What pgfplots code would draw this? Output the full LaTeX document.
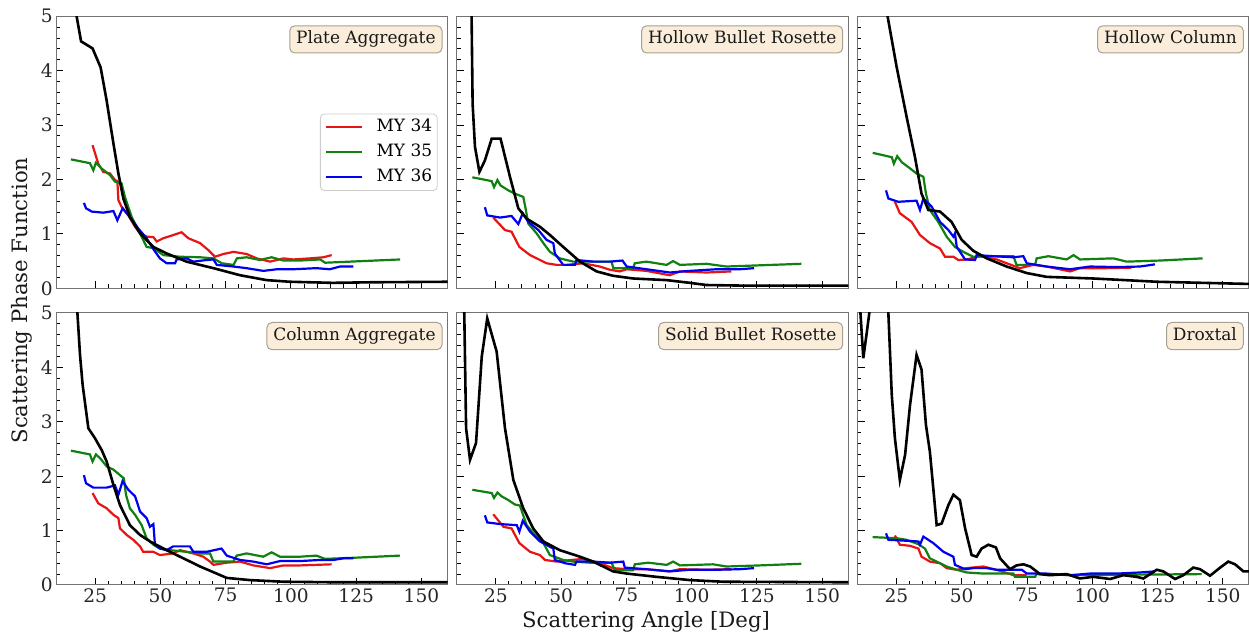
\documentclass[border=0pt]{standalone}
\usepackage{fontspec}
\setmainfont{DejaVu Serif}
\usepackage{pgfplots}
\pgfplotsset{compat=1.18}
\definecolor{myred}{HTML}{E81414}
\definecolor{mygreen}{HTML}{108010}
\definecolor{myblue}{HTML}{0000F0}
\definecolor{boxfill}{HTML}{FAEEDA}
\definecolor{boxedge}{HTML}{A8A090}
\newcommand{\ticksfont}{\fontsize{9.3}{11}\selectfont}
\newcommand{\labfont}{\fontsize{10.6}{12}\selectfont}
\newcommand{\smallfont}{\fontsize{8.5}{10}\selectfont}
\pgfplotsset{
 panel/.style={
  scale only axis, width=195.8pt, height=136pt,
  anchor=south west,
  xmin=10, xmax=160, ymin=0, ymax=5,
  xtick={25,50,75,100,125,150}, ytick={0,1,2,3,4,5},
  minor x tick num=4, minor y tick num=4,
  tick align=inside, xtick pos=bottom, ytick pos=left,
  major tick length=3.6pt, minor tick length=2pt,
  every tick/.style={black, line width=0.5pt},
  axis line style={black!55, line width=0.5pt},
  tick label style={font=\ticksfont, text=black!85, inner sep=1.5pt},
  /pgf/number format/assume math mode=true,
  clip=true,
 },
 noxlab/.style={xticklabels={}},
 noylab/.style={yticklabels={}},
 r/.style={myred, line width=1.1pt},
 g/.style={mygreen, line width=1.1pt},
 b/.style={myblue, line width=1.1pt},
 k/.style={black, line width=1.3pt},
}
\tikzset{titlebox/.style={draw=boxedge, fill=boxfill, rounded corners=2.5pt, line width=0.5pt,
  font=\smallfont, text=black!90, inner xsep=3.2pt, inner ysep=2.7pt, text height=6.4pt, text depth=1.8pt, anchor=north east}}
\begin{document}
\begin{tikzpicture}
\useasboundingbox (0,0) rectangle (624.5pt,317.5pt);
% ---------- Plate Aggregate
\begin{axis}[panel, noxlab, at={(28pt,173.35pt)},
  legend style={at={(axis description cs:0.9745,0.5)}, anchor=east, draw=black!20, rounded corners=2pt,
    font=\smallfont, inner xsep=2.5pt, inner ysep=2.5pt, row sep=4.2pt, column sep=0pt,
    nodes={inner sep=0pt, text height=6.5pt, text depth=1.8pt}, cells={anchor=west}},
  legend image code/.code={\draw[#1] (0pt,0pt) -- (18pt,0pt); \path (24.5pt,0pt);},
  legend cell align=left]
\addplot[r] coordinates {(24.0,2.63) (26.2,2.29) (28.1,2.14) (30.7,2.11) (32.6,1.99) (33.5,1.97) (33.9,1.62) (35.1,1.50) (37.7,1.34) (40.3,1.13) (42.2,1.01) (44.7,0.95) (47.3,0.94) (48.6,0.86) (51.1,0.92) (55.0,0.98) (58.1,1.03) (60.7,0.92) (65.2,0.83) (68.4,0.70) (70.9,0.58) (74.1,0.63) (78.0,0.67) (83.0,0.63) (86.9,0.55) (92.0,0.49) (97.1,0.55) (100.9,0.53) (107.3,0.55) (112.4,0.57) (115.6,0.61)};
\addlegendentry{MY 34}
\addplot[g] coordinates {(15.7,2.37) (23.0,2.30) (24.3,2.17) (25.3,2.31) (27.5,2.20) (30.7,2.08) (32.6,1.96) (35.1,1.93) (36.4,1.68) (39.0,1.31) (42.2,1.01) (44.7,0.76) (47.3,0.74) (51.1,0.61) (57.5,0.58) (65.2,0.57) (70.3,0.55) (73.5,0.46) (78.0,0.43) (79.3,0.55) (83.0,0.57) (88.1,0.52) (92.6,0.57) (97.1,0.51) (103.5,0.51) (111.2,0.53) (113.1,0.47) (122.7,0.49) (141.8,0.53)};
\addlegendentry{MY 35}
\addplot[b] coordinates {(20.7,1.57) (21.5,1.47) (23.7,1.41) (28.1,1.39) (32.0,1.42) (33.5,1.25) (35.5,1.47) (38.3,1.31) (41.5,1.10) (44.7,0.92) (47.3,0.72) (49.8,0.55) (52.4,0.46) (55.6,0.46) (56.2,0.53) (60.0,0.55) (62.6,0.49) (67.7,0.52) (70.3,0.53) (71.6,0.43) (78.0,0.40) (83.0,0.37) (89.4,0.32) (94.6,0.35) (100.9,0.35) (109.8,0.37) (114.9,0.35) (118.8,0.40) (123.9,0.40)};
\addlegendentry{MY 36}
\addplot[k, forget plot] coordinates {(17.2,6.0) (17.9,5.0) (19.6,4.54) (24.0,4.41) (27.1,4.06) (29.4,3.45) (32.0,2.66) (33.9,2.11) (35.8,1.65) (38.3,1.31) (42.2,1.01) (47.3,0.76) (52.4,0.64) (60.0,0.49) (70.3,0.37) (80.5,0.24) (90.7,0.15) (99.6,0.12) (116,0.10) (130,0.11) (160,0.12)};
\node[titlebox] at (axis description cs:0.987,0.967) {Plate Aggregate};
\end{axis}
% ---------- Hollow Bullet Rosette
\begin{axis}[panel, noxlab, noylab, at={(228.35pt,173.35pt)}]
\addplot[r] coordinates {(24.0,1.30) (28.5,1.07) (31.0,1.04) (34.0,0.76) (38.1,0.61) (41.9,0.52) (44.4,0.46) (48.3,0.43) (52.1,0.43) (58.5,0.46) (64.8,0.40) (68.7,0.34) (72.5,0.31) (75.1,0.35) (82.7,0.32) (91.6,0.24) (95.5,0.31) (105.7,0.29) (115.2,0.31)};
\addplot[g] coordinates {(16.0,2.04) (23.4,1.97) (24.3,1.86) (25.6,1.99) (26.8,1.89) (29.8,1.80) (32.3,1.74) (35.5,1.68) (36.5,1.44) (37.4,1.19) (40.6,1.01) (43.2,0.83) (45.7,0.67) (49.5,0.55) (54.6,0.49) (61.0,0.49) (69.3,0.49) (70.0,0.37) (77.6,0.37) (78.2,0.46) (82.7,0.49) (90.4,0.43) (92.9,0.50) (95.5,0.43) (105.7,0.45) (113.3,0.40) (124.8,0.42) (142.0,0.45)};
\addplot[b] coordinates {(20.8,1.49) (21.7,1.34) (26.6,1.30) (31.0,1.33) (33.6,1.18) (35.3,1.38) (37.4,1.22) (41.3,1.07) (44.4,0.89) (47.0,0.83) (47.6,0.64) (50.8,0.43) (55.3,0.43) (55.9,0.52) (62.3,0.49) (68.7,0.49) (73.5,0.51) (75.1,0.40) (82.7,0.35) (91.6,0.29) (99.3,0.32) (109.5,0.35) (118.4,0.35) (123.9,0.37)};
\addplot[k] coordinates {(15.5,6.0) (15.7,5.0) (16.1,3.39) (17.0,2.60) (18.7,2.14) (20.8,2.35) (23.4,2.75) (26.8,2.75) (30.4,2.05) (33.6,1.47) (36.8,1.28) (41.9,1.13) (45.7,0.98) (50.8,0.76) (57.2,0.49) (63.6,0.31) (69.9,0.23) (77.6,0.18) (90.4,0.15) (99.3,0.10) (105.7,0.06) (118.4,0.05) (160,0.05)};
\node[titlebox] at (axis description cs:0.987,0.967) {Hollow Bullet Rosette};
\end{axis}
% ---------- Hollow Column
\begin{axis}[panel, noxlab, noylab, at={(428.65pt,173.35pt)}]
\addplot[r] coordinates {(24.4,1.59) (26.3,1.38) (30.8,1.22) (34.0,0.98) (37.8,0.83) (41.7,0.73) (43.6,0.58) (46.8,0.58) (48.7,0.52) (51.9,0.53) (57.0,0.59) (63.4,0.53) (67.2,0.46) (72.3,0.37) (77.4,0.43) (82.5,0.40) (91.5,0.31) (95.3,0.37) (105.5,0.37) (115.1,0.38)};
\addplot[g] coordinates {(15.9,2.49) (23.2,2.41) (24.0,2.29) (25.3,2.43) (27.0,2.32) (29.5,2.23) (32.7,2.11) (35.3,2.05) (36.3,1.74) (37.8,1.44) (41.0,1.22) (44.2,0.95) (47.4,0.76) (50.6,0.67) (54.4,0.58) (60.8,0.59) (69.8,0.59) (71.0,0.43) (78.1,0.43) (78.7,0.55) (83.2,0.59) (90.2,0.53) (92.8,0.61) (95.3,0.53) (108.1,0.55) (113.2,0.49) (126.0,0.51) (142.3,0.55)};
\addplot[b] coordinates {(21.0,1.80) (21.9,1.65) (25.7,1.59) (32.7,1.61) (34.0,1.44) (35.3,1.65) (38.5,1.50) (41.7,1.22) (44.9,1.07) (46.8,0.95) (47.4,1.01) (48.1,0.76) (51.3,0.53) (55.1,0.52) (55.7,0.61) (62.1,0.59) (69.8,0.57) (73.6,0.59) (74.9,0.46) (82.5,0.40) (91.5,0.35) (99.1,0.40) (109.4,0.39) (118.3,0.40) (124.0,0.44)};
\addplot[k] coordinates {(19.5,5.7) (21.6,5.0) (25.1,4.06) (28.9,3.15) (32.1,2.41) (34.6,1.74) (37.2,1.44) (41.7,1.41) (46.1,1.22) (50.0,0.89) (54.4,0.69) (59.6,0.55) (67.2,0.40) (74.9,0.28) (82.5,0.21) (100.4,0.18) (124.7,0.12) (160,0.08)};
\node[titlebox] at (axis description cs:0.987,0.967) {Hollow Column};
\end{axis}
% ---------- Column Aggregate
\begin{axis}[panel, at={(28pt,25pt)}]
\addplot[r] coordinates {(24.0,1.69) (26.2,1.50) (29.4,1.41) (32.0,1.29) (33.9,1.23) (34.5,1.04) (37.1,0.92) (39.6,0.83) (42.2,0.71) (43.4,0.61) (47.3,0.61) (49.8,0.55) (54.9,0.58) (57.5,0.64) (62.6,0.58) (66.4,0.52) (69.0,0.43) (70.3,0.37) (75.4,0.41) (80.5,0.43) (85.6,0.36) (92.0,0.31) (97.1,0.36) (103.5,0.36) (109.8,0.37) (115.6,0.38)};
\addplot[g] coordinates {(15.7,2.47) (23.0,2.40) (24.0,2.27) (25.3,2.40) (26.9,2.33) (29.4,2.18) (32.0,2.12) (33.5,2.06) (36.0,1.96) (36.8,1.66) (38.3,1.41) (40.3,1.29) (42.8,1.10) (44.7,0.86) (47.3,0.74) (49.8,0.67) (53.7,0.64) (60.0,0.61) (65.2,0.58) (69.0,0.58) (70.3,0.43) (77.9,0.43) (79.2,0.54) (83.0,0.58) (89.4,0.52) (92.6,0.60) (95.8,0.52) (103.5,0.52) (109.8,0.54) (113.0,0.48) (123.9,0.50) (141.7,0.54)};
\addplot[b] coordinates {(20.7,2.02) (21.5,1.87) (24.3,1.79) (29.4,1.79) (32.6,1.83) (33.9,1.66) (35.5,1.91) (37.7,1.75) (40.3,1.63) (42.2,1.35) (44.7,1.23) (46.0,1.07) (47.3,1.12) (47.9,0.74) (49.8,0.67) (52.4,0.64) (54.9,0.71) (61.3,0.71) (62.6,0.61) (67.7,0.61) (73.4,0.67) (75.4,0.54) (80.5,0.46) (85.6,0.43) (90.7,0.38) (95.8,0.44) (103.5,0.44) (111.1,0.46) (116.2,0.46) (120.0,0.49) (123.9,0.49)};
\addplot[k] coordinates {(17.9,6.0) (18.2,5.0) (19.2,4.23) (20.2,3.68) (22.4,2.88) (24.9,2.70) (27.5,2.48) (29.4,2.27) (32.0,1.84) (34.5,1.47) (38.3,1.10) (42.2,0.92) (46.0,0.80) (52.4,0.64) (58.8,0.49) (65.2,0.34) (71.5,0.21) (75.4,0.13) (84.3,0.09) (97.1,0.06) (116.2,0.05) (160,0.05)};
\node[titlebox] at (axis description cs:0.987,0.967) {Column Aggregate};
\end{axis}
% ---------- Solid Bullet Rosette
\begin{axis}[panel, noylab, at={(228.35pt,25pt)}]
\addplot[r] coordinates {(24.0,1.30) (27.9,1.07) (31.0,1.04) (34.0,0.77) (38.1,0.61) (41.9,0.55) (43.8,0.46) (48.3,0.43) (54.0,0.46) (58.5,0.48) (64.8,0.40) (69.9,0.31) (75.1,0.29) (82.7,0.29) (91.6,0.25) (95.5,0.29) (105.7,0.28) (115.2,0.29)};
\addplot[g] coordinates {(16.0,1.75) (23.4,1.69) (24.3,1.60) (25.6,1.70) (27.2,1.63) (29.8,1.56) (32.3,1.48) (34.2,1.46) (36.8,1.10) (40.0,0.92) (43.2,0.77) (45.7,0.55) (50.8,0.46) (54.6,0.43) (61.0,0.41) (69.3,0.41) (70.6,0.27) (77.6,0.27) (78.2,0.38) (83.3,0.41) (90.4,0.37) (92.9,0.43) (95.5,0.36) (108.2,0.38) (113.3,0.34) (126.1,0.36) (142.0,0.39)};
\addplot[b] coordinates {(20.8,1.28) (21.7,1.15) (26.6,1.12) (33.0,1.10) (34.0,0.98) (35.3,1.18) (38.1,0.98) (41.9,0.80) (47.0,0.67) (47.6,0.46) (51.5,0.40) (55.3,0.37) (55.9,0.43) (62.3,0.43) (68.7,0.41) (73.8,0.43) (74.4,0.32) (82.7,0.29) (91.6,0.25) (99.3,0.28) (109.5,0.28) (118.4,0.29) (123.9,0.31)};
\addplot[k] coordinates {(12.6,6.0) (12.9,5.0) (13.6,2.88) (15.1,2.30) (17.4,2.61) (19.6,4.20) (21.7,4.90) (25.3,4.29) (28.5,2.88) (31.7,1.93) (35.5,1.41) (39.3,1.04) (43.2,0.80) (49.5,0.64) (57.2,0.52) (62.3,0.43) (69.9,0.25) (75.1,0.21) (86.5,0.15) (99.3,0.09) (112.0,0.06) (160,0.05)};
\node[titlebox] at (axis description cs:0.987,0.967) {Solid Bullet Rosette};
\end{axis}
% ---------- Droxtal
\begin{axis}[panel, noylab, at={(428.65pt,25pt)}]
\addplot[r] coordinates {(24.4,0.91) (26.3,0.74) (30.2,0.72) (33.4,0.67) (34.6,0.52) (37.8,0.43) (41.7,0.40) (44.2,0.31) (48.1,0.28) (51.9,0.31) (58.3,0.34) (64.7,0.26) (69.8,0.18) (74.9,0.18)};
\addplot[g] coordinates {(15.9,0.88) (25.1,0.86) (28.9,0.83) (33.4,0.75) (35.9,0.67) (37.8,0.49) (40.4,0.43) (44.2,0.34) (48.1,0.28) (51.9,0.23) (58.3,0.21) (69.8,0.21) (70.4,0.15) (78.1,0.15) (78.7,0.20) (92.8,0.18) (141.9,0.20)};
\addplot[b] coordinates {(21.0,0.95) (21.9,0.83) (26.3,0.82) (33.4,0.80) (34.0,0.74) (35.3,0.89) (39.1,0.77) (43.0,0.61) (46.8,0.52) (47.4,0.37) (51.3,0.29) (54.4,0.31) (59.6,0.31) (63.4,0.28) (68.5,0.28) (73.0,0.28) (74.9,0.21) (82.5,0.21) (91.5,0.18) (99.1,0.21) (109.4,0.21) (118.3,0.23) (124.0,0.25)};
\addplot[k] coordinates {(10.6,6.5) (11.2,5.0) (12.3,4.17) (13.6,4.63) (14.6,5.0) (16,7.5) (18,9) (20.3,6.8) (21.9,5.0) (23.2,3.50) (24.4,2.70) (26.3,1.93) (28.3,2.39) (30.2,3.31) (32.7,4.23) (34.6,3.96) (36.3,2.94) (37.8,2.45) (39.1,1.78) (40.4,1.10) (42.3,1.13) (44.9,1.47) (46.8,1.66) (49.3,1.56) (51.3,1.04) (53.8,0.55) (55.7,0.52) (57.6,0.67) (60.2,0.74) (63.1,0.69) (64.7,0.49) (68.5,0.29) (71.0,0.36) (73.6,0.38) (76.2,0.34) (80.0,0.20) (83.8,0.18) (90.2,0.20) (95.3,0.12) (100.4,0.15) (106.8,0.11) (111.9,0.18) (117.0,0.15) (119.6,0.12) (124.7,0.28) (127.2,0.25) (131.7,0.11) (134.9,0.18) (138.7,0.32) (141.3,0.29) (145.1,0.17) (149.0,0.32) (152.1,0.43) (154.7,0.38) (157.9,0.25) (160,0.25)};
\node[titlebox] at (axis description cs:0.987,0.967) {Droxtal};
\end{axis}
\node[rotate=90, font=\labfont, text=black!90] at (10.75pt,167.25pt) {Scattering Phase Function};
\node[font=\labfont, text=black!90] at (323pt,6.5pt) {Scattering Angle [Deg]};
\end{tikzpicture}
\end{document}
